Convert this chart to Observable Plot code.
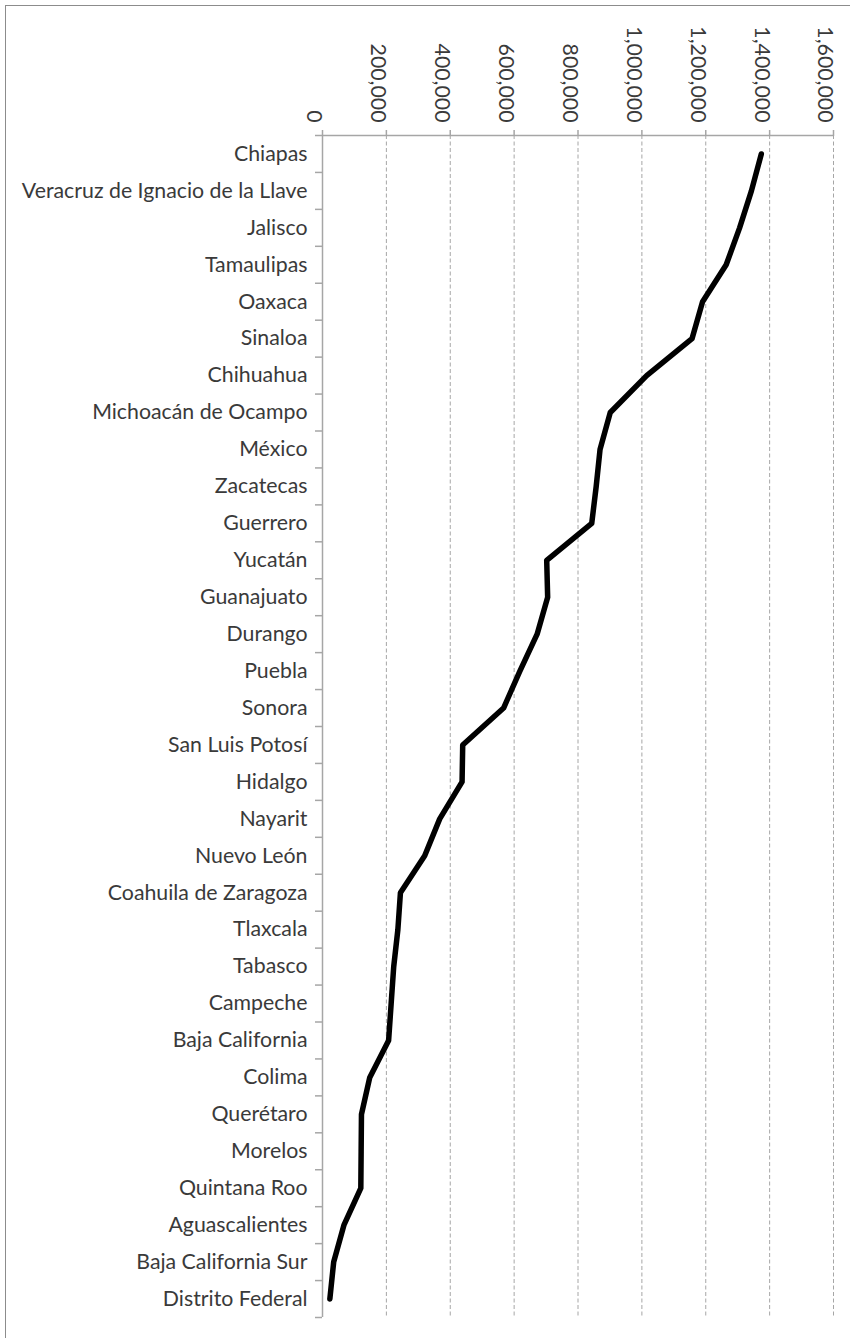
<!DOCTYPE html>
<html>
<head>
<meta charset="utf-8">
<script src="https://cdn.jsdelivr.net/npm/d3@7"></script>
<script src="https://cdn.jsdelivr.net/npm/@observablehq/plot@0.6"></script>
<style>
  html, body { margin: 0; padding: 0; background: #fff; }
  #wrap { position: relative; width: 850px; height: 1338px; overflow: hidden; }
  #border { position: absolute; left: 5px; top: 5px; width: 900px; height: 1400px; border: 1.5px solid #8c8c8c; box-sizing: border-box; pointer-events: none; }
  #chart { position: absolute; left: 0; top: 0; }
</style>
</head>
<body>
<div id="wrap"><div id="chart"></div><div id="border"></div></div>
<script>
const states = ["Chiapas","Veracruz de Ignacio de la Llave","Jalisco","Tamaulipas","Oaxaca","Sinaloa","Chihuahua","Michoacán de Ocampo","México","Zacatecas","Guerrero","Yucatán","Guanajuato","Durango","Puebla","Sonora","San Luis Potosí","Hidalgo","Nayarit","Nuevo León","Coahuila de Zaragoza","Tlaxcala","Tabasco","Campeche","Baja California","Colima","Querétaro","Morelos","Quintana Roo","Aguascalientes","Baja California Sur","Distrito Federal"];
const values = [1374000,1343000,1306000,1264000,1190000,1157000,1015000,901000,869000,857000,843000,702000,705000,672000,618000,567000,439000,437000,367000,320000,244000,236000,223000,215000,207000,148000,122000,121000,120000,67000,35000,23000];
const xTicks = [0,200000,400000,600000,800000,1000000,1200000,1400000,1600000];

const data = states.map((s, i) => ({state: s, idx: i, value: values[i]}));
const catIdx = states.map((s, i) => i);
const catBounds = d3.range(states.length + 1).map(i => i - 0.5);

const axisColor = "#a6a6a6";
const textColor = "#3a3a3a";
const fmt = d3.format(",");

const chart = Plot.plot({
  width: 850,
  height: 1338,
  marginTop: 135,
  marginLeft: 322,
  marginRight: 17,
  marginBottom: 21,
  style: {fontFamily: "Lato, sans-serif", fontSize: "21.3px", color: textColor, background: "transparent"},
  x: {domain: [0, 1600000], label: null},
  y: {domain: [-0.5, states.length - 0.5], reverse: true, label: null},
  marks: [
    Plot.gridX(xTicks.slice(1), {stroke: axisColor, strokeOpacity: 1, strokeWidth: 1, strokeDasharray: "4,2.5"}),
    Plot.ruleX([0], {stroke: axisColor, strokeWidth: 1.5}),
    Plot.ruleY([-0.5], {stroke: axisColor, strokeWidth: 1.5}),
    Plot.axisX({anchor: "top", ticks: xTicks, tickSize: 6, stroke: axisColor, strokeWidth: 1.5, tickFormat: () => "", label: null}),
    Plot.text(xTicks, {x: d => d, text: d => fmt(d), frameAnchor: "top", dy: -13, rotate: 90, textAnchor: "end", fill: textColor}),
    Plot.axisY({anchor: "left", ticks: catBounds, tickSize: 7, stroke: axisColor, strokeWidth: 1.5, tickFormat: () => "", label: null}),
    Plot.axisY({anchor: "left", ticks: catIdx, tickSize: 0, tickPadding: 15, tickFormat: i => states[i], fill: textColor, label: null}),
    Plot.line(data, {x: "value", y: "idx", stroke: "#000", strokeWidth: 5.5, strokeLinejoin: "round", strokeLinecap: "round"})
  ]
});
document.getElementById("chart").appendChild(chart);
</script>
</body>
</html>
